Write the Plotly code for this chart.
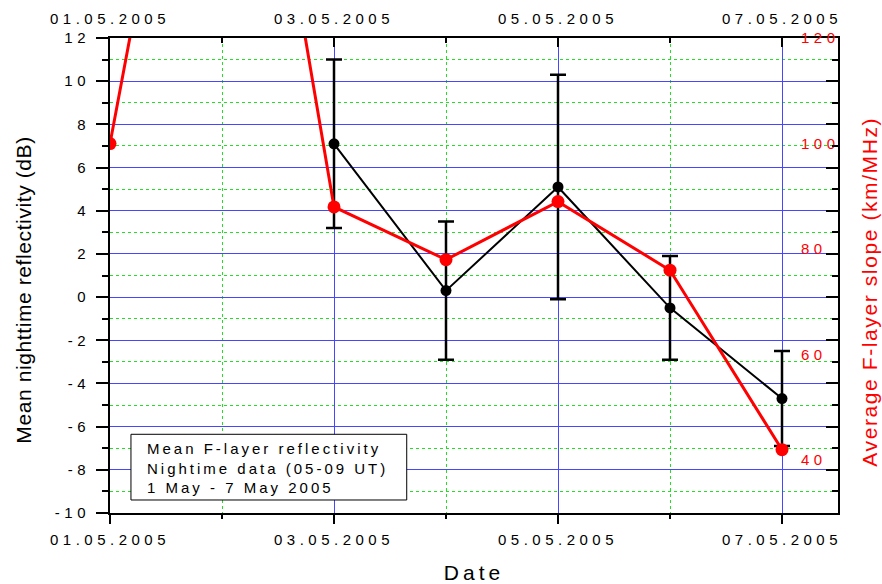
import plotly.graph_objects as go

# ---- data ----
refl_dates = ["2005-05-03", "2005-05-04", "2005-05-05", "2005-05-06", "2005-05-07"]
reflectivity = [7.1, 0.3, 5.1, -0.5, -4.7]
reflectivity_err = [3.9, 3.2, 5.2, 2.4, 2.2]

slope_dates = ["2005-05-01", "2005-05-02", "2005-05-03", "2005-05-04",
               "2005-05-05", "2005-05-06", "2005-05-07"]
slope = [100, 213, 88, 78, 89, 76, 42]

date_tickvals = ["2005-05-01", "2005-05-03", "2005-05-05", "2005-05-07"]
date_ticktext = ["01.05.2005", "03.05.2005", "05.05.2005", "07.05.2005"]
refl_tickvals = [-10, -8, -6, -4, -2, 0, 2, 4, 6, 8, 10, 12]
refl_ticktext = ["-10", "-8", "-6", "-4", "-2", "0", "2", "4", "6", "8", "10", "12"]
slope_tickvals = [40, 60, 80, 100, 120]

left_title = "Mean nighttime reflectivity (dB)"
right_title = "Average F-layer slope (km/MHz)"
x_title = "Date"
legend_lines = ["Mean F-layer reflectivity", "Nightime data (05-09 UT)", "1 May - 7 May 2005"]

# ---- styles ----
BLUE = "#4646ff"
GREEN = "#22e022"
RED = "#ff0000"
FONT = "Liberation Sans, Arial, sans-serif"
DAY = 86400000
x_range = ["2005-05-01", "2005-05-07 12:00"]

fig = go.Figure()

fig.add_trace(go.Scatter(
    x=refl_dates, y=reflectivity, mode="lines+markers",
    line=dict(color="black", width=2),
    marker=dict(color="black", size=11),
    error_y=dict(type="data", array=reflectivity_err, color="black", thickness=2.5, width=8),
    hoverinfo="skip", showlegend=False,
))

fig.add_trace(go.Scatter(
    x=slope_dates, y=slope, yaxis="y2", mode="lines+markers",
    line=dict(color=RED, width=3),
    marker=dict(color=RED, size=13),
    hoverinfo="skip", showlegend=False,
))

# carrier trace for the mirrored top / right frame axes
fig.add_trace(go.Scatter(x=[], y=[], xaxis="x2", yaxis="y3", showlegend=False, hoverinfo="skip"))

fig.update_layout(
    width=882, height=584,
    margin=dict(l=110, r=44, t=38, b=71),
    paper_bgcolor="white", plot_bgcolor="white",
    showlegend=False,
    font=dict(family=FONT, size=15, color="black"),
    xaxis=dict(
        type="date", range=x_range, automargin=False,
        tickmode="array", tickvals=date_tickvals, ticktext=date_ticktext,
        ticks="outside", ticklen=9, tickwidth=2, tickcolor="black",
        showline=True, linewidth=2, linecolor="black",
        showgrid=True, gridcolor=BLUE, gridwidth=1, zeroline=False,
        minor=dict(dtick=DAY, tick0="2005-05-01", ticks="outside", ticklen=4,
                   tickwidth=2, tickcolor="black",
                   showgrid=True, gridcolor=GREEN, griddash="dot", gridwidth=1),
        tickfont=dict(size=15), ticklabelstandoff=3,
        title=dict(text=x_title, font=dict(size=21), standoff=20),
    ),
    xaxis2=dict(
        type="date", range=x_range, overlaying="x", side="top", anchor="y", automargin=False,
        tickmode="array", tickvals=date_tickvals, ticktext=date_ticktext,
        ticks="inside", ticklen=9, tickwidth=2, tickcolor="black",
        showline=True, linewidth=2, linecolor="black",
        showgrid=False, zeroline=False,
        minor=dict(dtick=DAY, tick0="2005-05-01", ticks="inside", ticklen=5,
                   tickwidth=2, tickcolor="black", showgrid=False),
        tickfont=dict(size=15), ticklabelstandoff=6,
    ),
    yaxis=dict(
        range=[-10, 12], automargin=False,
        tickmode="array", tickvals=refl_tickvals, ticktext=refl_ticktext,
        ticks="outside", ticklen=12, tickwidth=2, tickcolor="black",
        showline=True, linewidth=2, linecolor="black",
        showgrid=True, gridcolor=BLUE, gridwidth=1, zeroline=False,
        minor=dict(dtick=1, tick0=0, ticks="outside", ticklen=6, tickwidth=2, tickcolor="black",
                   showgrid=True, gridcolor=GREEN, griddash="dot", gridwidth=1),
        tickfont=dict(size=15), ticklabelstandoff=3,
    ),
    yaxis2=dict(
        range=[30, 120], overlaying="y", side="right", anchor="x", automargin=False,
        tickmode="array", tickvals=slope_tickvals,
        ticks="", ticklabelposition="outside", ticklabelstandoff=-38,
        showline=False, showgrid=False, zeroline=False,
        tickfont=dict(size=15, color=RED),
    ),
    yaxis3=dict(
        range=[-10, 12], overlaying="y", side="right", anchor="x2", automargin=False,
        tick0=0, dtick=2, showticklabels=False,
        ticks="inside", ticklen=12, tickwidth=2, tickcolor="black",
        showline=True, linewidth=2, linecolor="black",
        showgrid=False, zeroline=False,
        minor=dict(dtick=1, ticks="inside", ticklen=6, tickwidth=2, tickcolor="black", showgrid=False),
    ),
    shapes=[dict(type="rect", xref="paper", yref="paper",
                 x0=0.0288, x1=0.4076, y0=0.0274, y1=0.1657,
                 line=dict(color="black", width=1), fillcolor="white", layer="above")],
    annotations=[
        dict(text="<br>".join(legend_lines), xref="paper", yref="paper",
             x=0.048, y=0.158, xanchor="left", yanchor="top", align="left",
             showarrow=False, font=dict(size=15, color="black")),
        dict(text=left_title, xref="paper", yref="paper", x=-0.118, y=0.4695,
             xanchor="center", yanchor="middle", textangle=-90,
             showarrow=False, font=dict(size=21, color="black")),
        dict(text=right_title, xref="paper", yref="paper", x=1.044, y=0.466,
             xanchor="center", yanchor="middle", textangle=-90,
             showarrow=False, font=dict(size=21, color=RED)),
    ],
)

css_js = """
document.body.style.margin = '0';
var s = document.createElement('style');
s.innerHTML = '.xtick text, .x2tick text, .ytick text, .y2tick text {letter-spacing:4.5px;}' +
              'g.annotation[data-index="0"] .annotation-text {letter-spacing:3px;}' +
              'g.annotation[data-index="1"] .annotation-text {letter-spacing:0.6px;}' +
              'g.annotation[data-index="2"] .annotation-text {letter-spacing:1.6px;}' +
              '.xtitle {letter-spacing:4px;}';
document.head.appendChild(s);
"""

fig.write_html("out.html", post_script=css_js, config={"displayModeBar": False})
